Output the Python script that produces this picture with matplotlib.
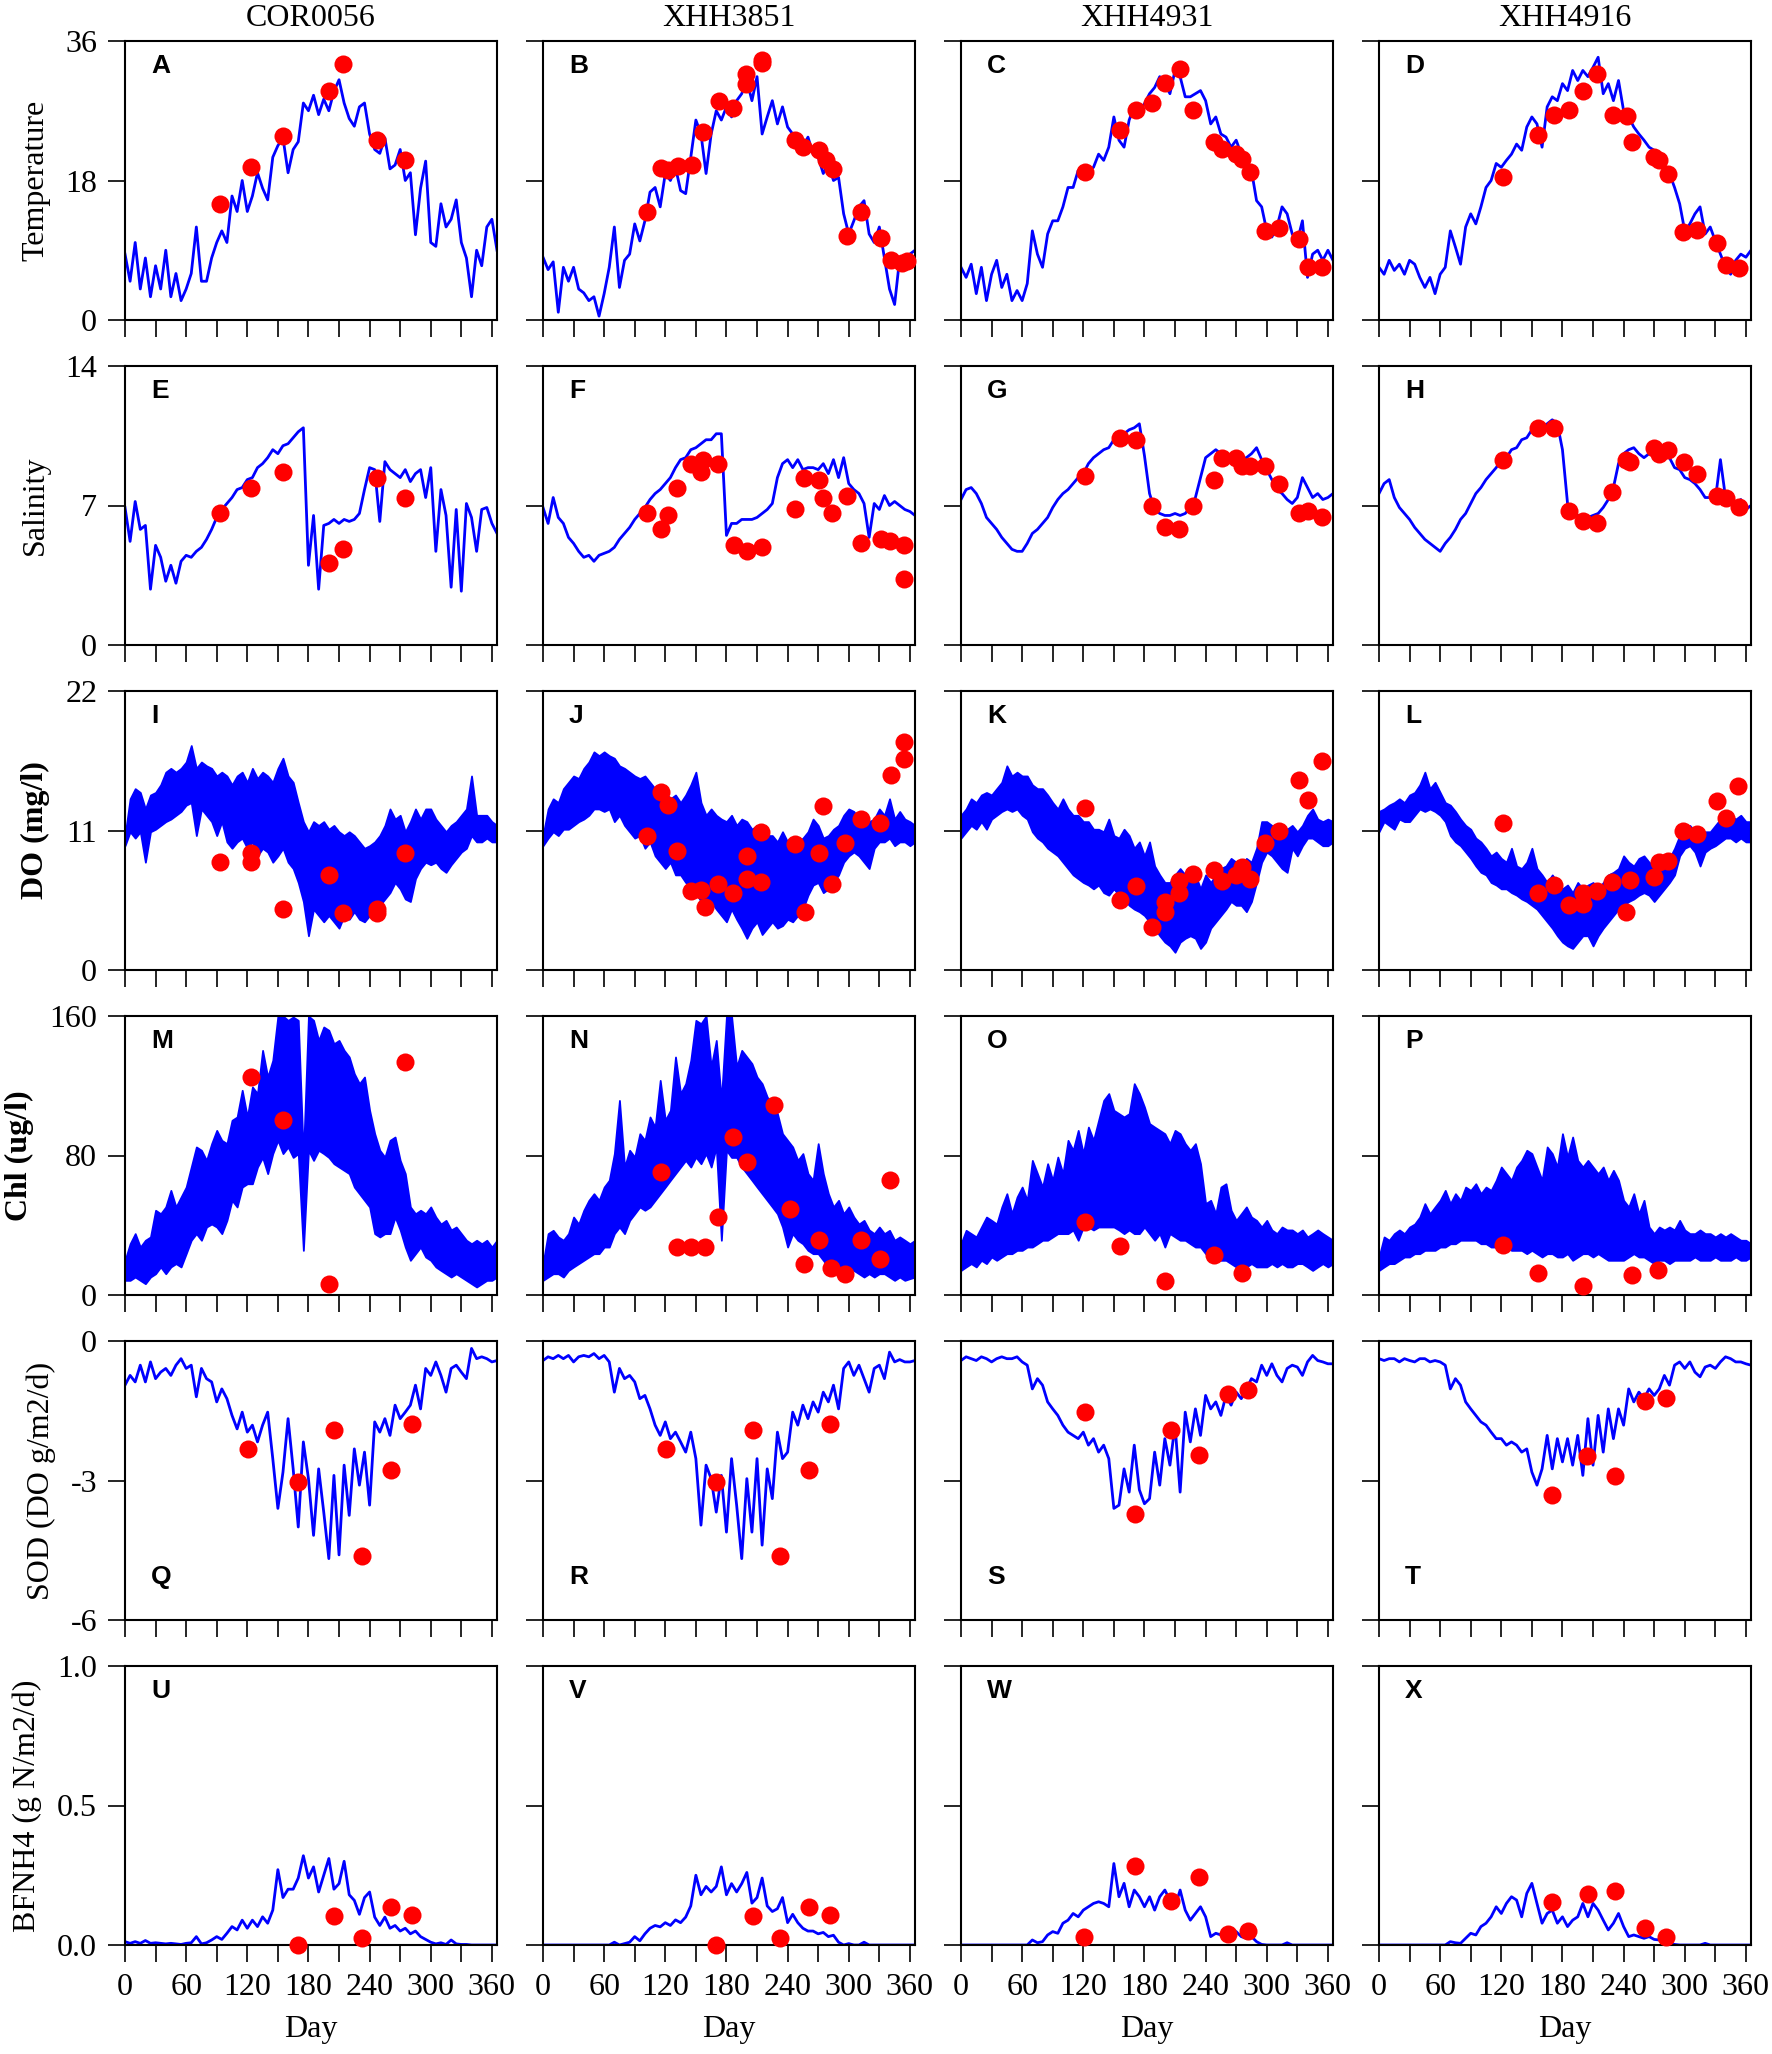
import matplotlib
matplotlib.use('Agg')
import matplotlib.pyplot as plt

# ========== CONFIGURATION ==========
FIG_W, FIG_H = 1772, 2054          # output size in pixels (dpi 100)
COL_LEFT = [125, 543, 961, 1379]   # axes left edge, px
ROW_TOP = [41, 366, 691, 1016, 1341, 1666]
AX_W, AX_H = 372, 279
BLUE = '#0000ff'
RED = '#ff0000'

plt.rcParams['font.family'] = ['Liberation Serif', 'DejaVu Serif']
plt.rcParams['axes.unicode_minus'] = False

# ========== DATA ==========
STATIONS = ['COR0056', 'XHH3851', 'XHH4931', 'XHH4916']
DAYS = list(range(0, 366, 5))   # model output sampled every 5 days

# --- Temperature (A-D) ---
temp_a = [8.5, 5, 10, 4, 8, 3, 7, 4, 9, 3,
          6, 2.5, 4, 6, 12, 5, 5, 8, 10, 11.5,
          10, 16, 14, 18, 14, 16, 19, 17, 15.5, 21,
          22.5, 23.5, 19, 22, 23, 28, 27, 29, 26.5, 28.5,
          27, 29.5, 31, 28, 26, 25, 27.5, 28, 24, 22,
          21.5, 23.5, 19.5, 20, 22, 18, 19, 11, 17, 20.5,
          10, 9.5, 15, 12, 13, 15.5, 10, 8, 3, 9,
          7, 12, 13, 9]
temp_b = [8.1, 6.5, 7.5, 1.0, 6.8, 5, 6.8, 4, 3.5, 2.5,
          3, 0.5, 3.4, 6.8, 12, 4.2, 7.7, 8.5, 12.4, 10.2,
          12.8, 16.5, 17.1, 14.6, 18.9, 18, 19.7, 16.7, 16.3, 21,
          25.8, 24, 18.9, 24, 27, 25.8, 27.5, 26.2, 28.3, 29.2,
          30.9, 28.3, 31.4, 24, 26.2, 28.3, 25.3, 27.5, 24.9, 24,
          23.2, 22.3, 23.6, 21.4, 21, 18.9, 20.2, 18, 18.4, 13.7,
          11.1, 12.8, 14.6, 15.4, 11.1, 10, 12, 8, 4, 2,
          8, 7, 8.5, 9]
temp_c = [6.8, 5.5, 7.2, 3.4, 6.8, 2.5, 5.9, 7.7, 4.2, 5.9,
          2.5, 3.8, 2.5, 4.7, 11.5, 8.5, 6.8, 11.1, 12.8, 12.8,
          14.6, 17.1, 17.1, 19.3, 18.4, 19.3, 19.7, 21.4, 20.6, 22.3,
          26.2, 23.2, 22.3, 25.8, 27.5, 27, 27.9, 29.2, 30, 31.4,
          30.5, 29.2, 32.2, 31.4, 28.8, 28.8, 29.2, 29.6, 28.3, 25.3,
          26.2, 24, 23.6, 22.3, 23.2, 21.4, 20.6, 19.3, 15.4, 14.6,
          11.5, 10.7, 12, 14.6, 13.7, 11.1, 10.2, 12.8, 5.5, 8.5,
          9, 7.7, 9, 7.7]
temp_d = [6.8, 5.9, 7.7, 6.4, 7.2, 5.9, 7.7, 7.2, 5.5, 4.2,
          5.5, 3.4, 5.9, 6.8, 11.5, 9.4, 7.2, 12, 13.7, 12.4,
          14.6, 17.1, 18, 20.2, 19.7, 20.6, 21.4, 22.7, 21.9, 24.9,
          26.2, 25.3, 22.3, 27.5, 28.8, 28.3, 30.5, 29.6, 32.2, 30.9,
          32.2, 31.4, 32.6, 33.9, 29.2, 30.5, 28.3, 30.9, 27, 26.2,
          24.9, 24, 23.2, 22.3, 21.9, 20.6, 19.3, 18.9, 17.1, 15,
          11.5, 12.4, 13.7, 14.6, 11.1, 12, 10.2, 8.5, 6.8, 5.9,
          7.7, 8.5, 8.1, 9]
temp_a_obs_day = [93, 124, 155, 200, 214, 247, 275]
temp_a_obs = [15.0, 19.7, 23.7, 29.5, 33.0, 23.2, 20.6]
temp_b_obs_day = [102, 116, 123, 132, 146, 157, 173, 186, 199, 199, 215, 215,
                  247, 255, 271, 278, 285, 298, 312, 332, 341, 352, 357]
temp_b_obs = [14.0, 19.6, 19.3, 19.9, 20.0, 24.2, 28.3, 27.3, 31.7, 30.5, 33.1, 33.6,
              23.2, 22.3, 21.9, 20.6, 19.5, 10.9, 14.0, 10.6, 7.7, 7.4, 7.6]
temp_c_obs_day = [122, 156, 172, 187, 200, 215, 228, 248, 256, 270, 276, 284,
                  298, 312, 332, 340, 354]
temp_c_obs = [19.1, 24.5, 27.1, 28.0, 30.6, 32.4, 27.1, 23.0, 22.1, 21.4, 20.8, 19.1,
              11.5, 11.9, 10.5, 6.9, 6.9]
temp_d_obs_day = [122, 156, 172, 186, 200, 214, 230, 243, 248, 270, 275, 284,
                  298, 312, 332, 340, 353]
temp_d_obs = [18.4, 23.9, 26.5, 27.1, 29.6, 31.7, 26.5, 26.3, 23.0, 21.0, 20.7, 18.9,
              11.3, 11.6, 9.9, 7.1, 6.7]

# --- Salinity (E-H) ---
sal_e = [6.9, 5.2, 7.2, 5.8, 6.0, 2.8, 5.0, 4.4, 3.2, 4.0,
         3.1, 4.2, 4.5, 4.4, 4.7, 4.9, 5.3, 5.8, 6.4, 6.8,
         7.1, 7.4, 7.8, 7.9, 8.3, 8.4, 8.9, 9.1, 9.4, 9.8,
         9.6, 10.0, 10.1, 10.4, 10.7, 10.9, 4.0, 6.5, 2.8, 6.0,
         6.1, 6.3, 6.1, 6.3, 6.2, 6.3, 6.6, 7.8, 8.9, 8.8,
         6.2, 9.2, 8.8, 8.6, 8.4, 8.8, 8.2, 8.6, 8.8, 7.4,
         8.9, 4.7, 7.8, 6.5, 2.9, 6.8, 2.7, 7.1, 6.4, 4.7,
         6.8, 6.9, 6.1, 5.6]
sal_f = [6.9, 6.1, 7.4, 6.4, 6.1, 5.4, 5.1, 4.7, 4.4, 4.5,
         4.2, 4.5, 4.6, 4.7, 4.9, 5.3, 5.6, 5.9, 6.3, 6.6,
         6.9, 7.3, 7.6, 7.8, 8.1, 8.4, 8.9, 9.3, 9.4, 9.8,
         9.9, 10.1, 10.3, 10.3, 10.6, 10.6, 5.5, 6.1, 6.1, 6.3,
         6.3, 6.3, 6.4, 6.6, 6.8, 7.1, 8.4, 9.1, 9.3, 8.9,
         9.3, 8.8, 8.9, 8.9, 8.8, 9.1, 8.6, 9.3, 8.4, 9.4,
         8.1, 7.8, 7.6, 7.1, 5.4, 7.1, 6.8, 7.5, 7.0, 7.2,
         7.0, 6.8, 6.7, 6.5]
sal_g = [7.3, 7.8, 7.9, 7.6, 7.1, 6.4, 6.1, 5.8, 5.4, 5.1,
         4.8, 4.7, 4.7, 5.1, 5.6, 5.8, 6.1, 6.4, 6.9, 7.3,
         7.6, 7.8, 8.1, 8.4, 8.6, 9.1, 9.4, 9.6, 9.8, 9.9,
         10.3, 10.4, 10.6, 10.8, 10.9, 11.1, 9.5, 7.6, 6.8, 6.6,
         6.5, 6.5, 6.6, 6.5, 6.6, 6.9, 7.4, 8.4, 9.4, 9.6,
         9.8, 9.6, 9.3, 9.4, 9.4, 9.3, 9.4, 9.6, 9.9, 9.3,
         8.8, 8.3, 7.8, 7.6, 7.3, 7.1, 7.4, 8.4, 7.9, 7.4,
         7.6, 7.3, 7.4, 7.6]
sal_h = [7.6, 8.1, 8.3, 7.4, 6.9, 6.6, 6.3, 5.9, 5.6, 5.3,
         5.1, 4.9, 4.7, 5.1, 5.4, 5.8, 6.3, 6.6, 7.1, 7.6,
         7.9, 8.3, 8.6, 8.9, 9.3, 9.4, 9.8, 9.9, 10.3, 10.4,
         10.8, 10.9, 10.9, 11.1, 11.3, 11.1, 9.8, 7.1, 6.6, 6.5,
         6.4, 6.4, 6.5, 6.6, 6.9, 7.3, 7.9, 9.1, 9.6, 9.8,
         9.9, 9.6, 9.4, 9.6, 9.8, 9.4, 9.8, 9.4, 8.9, 8.8,
         8.4, 8.3, 8.1, 7.8, 7.4, 7.4, 7.3, 9.3, 7.4, 7.3,
         7.1, 7.3, 6.8, 7.0]
sal_e_obs_day = [93, 124, 155, 200, 214, 247, 275]
sal_e_obs = [6.6, 7.9, 8.7, 4.1, 4.8, 8.4, 7.4]
sal_f_obs_day = [102, 116, 123, 131, 145, 155, 157, 172, 187, 200, 215,
                 247, 256, 271, 275, 284, 298, 312, 332, 340, 354, 354]
sal_f_obs = [6.6, 5.8, 6.5, 7.9, 9.1, 8.7, 9.3, 9.1, 5.0, 4.7, 4.9,
             6.8, 8.4, 8.3, 7.4, 6.6, 7.5, 5.1, 5.3, 5.2, 5.0, 3.3]
sal_g_obs_day = [122, 156, 172, 187, 200, 214, 228, 248, 256, 270, 276, 284,
                 298, 312, 332, 340, 354]
sal_g_obs = [8.5, 10.4, 10.3, 7.0, 5.9, 5.8, 7.0, 8.3, 9.4, 9.4, 9.0, 9.0,
             9.0, 8.1, 6.6, 6.7, 6.4]
sal_h_obs_day = [122, 156, 172, 186, 200, 214, 229, 242, 246, 270, 275, 284,
                 299, 312, 332, 340, 353]
sal_h_obs = [9.3, 10.9, 10.9, 6.7, 6.2, 6.1, 7.7, 9.3, 9.2, 9.9, 9.6, 9.8,
             9.2, 8.6, 7.5, 7.4, 6.9]

# --- DO (I-L): daily model output is a dense band, kept as upper / lower envelope ---
do_i_hi = [10.6, 13.5, 14.3, 14.0, 12.7, 13.8, 14.0, 14.6, 15.6, 15.9,
           15.6, 15.9, 16.4, 17.7, 15.9, 16.4, 16.1, 15.9, 15.3, 15.6,
           15.3, 14.6, 15.3, 15.6, 14.8, 15.9, 15.1, 15.6, 15.3, 14.8,
           15.9, 16.7, 15.3, 14.8, 13.2, 11.7, 10.9, 11.7, 11.4, 11.7,
           11.1, 11.4, 10.9, 10.6, 10.9, 10.6, 10.1, 9.6, 9.8, 10.1,
           10.6, 11.4, 12.7, 11.9, 12.2, 10.9, 11.7, 12.7, 11.9, 12.7,
           12.7, 11.9, 11.4, 10.9, 11.4, 11.7, 12.2, 12.7, 15.3, 12.2,
           12.2, 12.2, 11.7, 11.4]
do_i_lo = [9.8, 10.9, 10.4, 10.9, 8.5, 10.9, 11.1, 11.4, 11.7, 11.9,
           12.2, 12.5, 13.0, 13.2, 10.6, 12.7, 12.2, 11.7, 10.6, 11.7,
           10.1, 9.6, 10.1, 10.4, 9.6, 10.1, 9.0, 9.6, 9.3, 8.5,
           9.0, 9.6, 8.5, 8.0, 6.9, 5.4, 2.7, 4.8, 4.3, 3.8,
           4.3, 3.8, 3.3, 4.3, 4.0, 4.6, 4.0, 3.8, 4.3, 4.8,
           5.1, 5.6, 6.1, 6.9, 6.4, 5.6, 5.4, 7.2, 8.0, 8.5,
           8.3, 8.5, 8.0, 7.7, 8.3, 8.8, 9.3, 9.6, 10.6, 10.1,
           10.1, 10.4, 10.1, 10.1]
do_j_hi = [10.6, 12.7, 13.5, 13.2, 14.3, 14.8, 15.3, 15.1, 15.9, 16.4,
           17.2, 16.9, 17.2, 16.9, 16.7, 16.1, 15.9, 15.6, 15.3, 15.1,
           15.3, 14.8, 14.3, 13.8, 14.0, 13.5, 13.8, 13.2, 13.8, 14.6,
           15.6, 13.2, 12.2, 12.7, 12.2, 11.9, 11.7, 12.2, 11.4, 11.9,
           11.7, 11.1, 11.4, 10.9, 10.6, 10.6, 10.1, 10.9, 10.1, 9.8,
           10.1, 10.4, 10.9, 11.9, 11.4, 10.4, 10.6, 11.1, 11.4, 12.2,
           12.7, 12.5, 11.9, 12.2, 11.7, 11.9, 12.7, 12.2, 13.5, 11.9,
           12.5, 11.9, 11.7, 11.4]
do_j_lo = [9.8, 10.4, 10.9, 10.6, 11.1, 11.1, 11.4, 11.7, 11.9, 12.2,
           12.7, 12.7, 12.5, 12.7, 11.7, 12.2, 11.4, 10.9, 10.4, 10.6,
           9.6, 10.1, 9.0, 8.5, 8.0, 8.5, 7.5, 7.5, 6.9, 6.7,
           6.1, 5.4, 4.8, 5.4, 4.8, 4.3, 3.8, 4.8, 4.0, 3.3,
           2.5, 3.3, 3.8, 2.8, 3.3, 3.8, 3.3, 3.5, 4.0, 3.8,
           4.3, 4.8, 5.9, 6.7, 6.9, 6.1, 6.4, 6.9, 7.5, 8.5,
           9.0, 9.3, 9.0, 8.5, 8.0, 9.6, 10.1, 10.1, 10.4, 9.8,
           10.1, 10.1, 9.8, 10.1]
do_k_hi = [12.2, 12.7, 13.5, 13.2, 13.8, 14.0, 13.8, 14.3, 14.8, 16.1,
           15.3, 15.6, 15.3, 15.3, 14.6, 14.3, 14.3, 13.8, 13.2, 12.7,
           13.5, 12.7, 12.2, 12.2, 11.7, 11.7, 11.1, 11.1, 10.9, 11.9,
           10.6, 10.4, 11.1, 10.6, 9.6, 10.1, 9.0, 10.1, 8.2, 7.5,
           6.9, 6.9, 7.5, 8.0, 7.5, 8.0, 7.5, 6.4, 7.5, 6.9,
           7.5, 8.0, 8.2, 8.8, 8.5, 8.2, 8.8, 8.5, 9.6, 11.7,
           11.7, 11.4, 10.9, 10.6, 11.1, 11.4, 10.9, 11.4, 12.2, 12.7,
           11.9, 11.7, 11.9, 11.7]
do_k_lo = [10.4, 10.9, 11.4, 11.1, 11.7, 11.1, 11.9, 12.2, 12.5, 12.7,
           12.5, 12.7, 12.2, 11.9, 10.9, 10.4, 10.1, 9.6, 9.3, 9.0,
           8.5, 8.0, 7.5, 7.2, 6.9, 6.7, 6.4, 6.7, 6.1, 5.9,
           6.4, 5.9, 5.6, 5.1, 4.8, 4.6, 4.3, 3.8, 3.3, 2.7,
           2.2, 1.9, 1.4, 2.2, 2.5, 2.7, 2.5, 1.7, 2.2, 3.3,
           3.8, 4.3, 4.8, 5.4, 5.1, 5.1, 4.6, 5.4, 6.9, 8.5,
           9.3, 9.0, 8.5, 8.0, 7.7, 9.6, 9.0, 9.8, 10.4, 10.4,
           10.1, 9.8, 9.8, 10.1]
do_l_hi = [12.5, 12.7, 13.0, 13.2, 13.5, 13.2, 13.8, 14.0, 14.6, 15.6,
           14.3, 14.8, 14.0, 13.2, 13.0, 12.5, 11.9, 11.4, 11.1, 10.4,
           10.1, 9.6, 9.0, 9.3, 8.8, 8.5, 9.6, 8.2, 8.0, 8.5,
           9.6, 8.0, 7.5, 6.9, 7.5, 6.9, 6.4, 6.7, 6.1, 6.9,
           6.4, 6.7, 6.9, 6.4, 6.9, 7.5, 7.7, 8.0, 9.0, 8.5,
           8.2, 8.8, 9.0, 8.5, 8.2, 8.5, 8.5, 8.8, 9.6, 10.6,
           11.1, 11.4, 10.9, 10.6, 10.9, 10.9, 11.4, 11.9, 12.5, 12.2,
           11.9, 12.2, 11.7, 11.7]
do_l_lo = [10.9, 11.7, 11.4, 11.1, 11.9, 11.7, 11.7, 12.2, 12.7, 12.5,
           12.7, 12.5, 12.2, 11.7, 10.6, 10.1, 9.8, 9.3, 8.8, 8.2,
           7.7, 7.5, 6.9, 6.7, 6.4, 6.4, 6.1, 5.9, 5.6, 5.4,
           5.1, 4.8, 4.3, 3.8, 3.3, 2.7, 2.2, 1.9, 1.7, 2.2,
           2.7, 2.7, 1.9, 2.7, 3.3, 3.8, 4.3, 4.8, 5.1, 5.4,
           5.6, 5.9, 6.1, 5.9, 5.4, 5.9, 6.4, 6.9, 7.5, 9.0,
           9.6, 9.8, 9.3, 8.2, 9.3, 9.6, 9.8, 10.1, 10.4, 10.4,
           10.1, 10.4, 10.1, 10.1]
do_i_obs_day = [93, 124, 124, 155, 200, 214, 247, 247, 275]
do_i_obs = [8.5, 9.2, 8.5, 4.8, 7.5, 4.5, 4.8, 4.5, 9.2]
do_j_obs_day = [102, 116, 123, 131, 145, 155, 159, 172, 186, 200, 200, 214,
                214, 247, 257, 271, 275, 284, 296, 312, 331, 341, 354, 354]
do_j_obs = [10.6, 14.0, 13.0, 9.4, 6.2, 6.3, 5.0, 6.8, 6.1, 9.0, 7.2, 10.9,
            6.9, 9.9, 4.6, 9.2, 12.9, 6.8, 10.0, 11.9, 11.6, 15.4, 16.6, 18.0]
do_k_obs_day = [122, 156, 172, 187, 200, 200, 214, 214, 228, 248, 256, 270,
                276, 284, 298, 312, 332, 340, 354]
do_k_obs = [12.8, 5.5, 6.6, 3.4, 5.4, 4.6, 6.1, 7.0, 7.6, 7.9, 7.0, 7.5,
            8.1, 7.2, 10.0, 11.0, 15.0, 13.4, 16.5]
do_l_obs_day = [122, 156, 172, 186, 200, 200, 214, 229, 242, 246, 270, 275,
                284, 298, 312, 332, 340, 352]
do_l_obs = [11.6, 6.1, 6.7, 5.1, 6.1, 5.2, 6.2, 6.9, 4.6, 7.1, 7.3, 8.5,
            8.6, 11.0, 10.7, 13.3, 12.0, 14.5]

# --- Chl (M-P): upper / lower envelope of the daily band ---
chl_m_hi = [19.9, 29.4, 35.2, 27.5, 31.4, 33.3, 48.6, 46.6, 50.5, 60.0,
            50.5, 56.2, 61.9, 73.4, 84.9, 83.0, 77.2, 86.8, 94.4, 88.7,
            86.8, 100.2, 102.1, 117.4, 102.1, 119.3, 115.5, 140.3, 125.0, 134.6,
            160, 160, 157.5, 159.4, 157.5, 79.0, 160, 157.5, 146.0, 153.7,
            151.8, 144.1, 146.0, 140.3, 136.5, 126.9, 121.2, 125.0, 105.9, 92.5,
            83.0, 79.1, 88.7, 90.6, 77.2, 69.6, 50.5, 46.6, 48.6, 46.6,
            50.5, 44.7, 40.7, 42.8, 37.3, 39.0, 35.2, 31.4, 29.4, 31.4,
            29.4, 31.4, 27.5, 31.4]
chl_m_lo = [8.4, 8.4, 10.3, 8.4, 6.5, 10.3, 12.2, 16.1, 12.2, 16.1,
            18.0, 16.1, 23.7, 31.4, 35.2, 31.4, 39.0, 40.7, 39.0, 35.2,
            42.8, 54.3, 50.5, 61.9, 63.8, 63.8, 73.4, 78.9, 69.6, 81.1,
            88.7, 81.1, 84.9, 78.9, 81.1, 25.6, 83.0, 77.2, 83.0, 81.1,
            78.9, 75.3, 73.4, 71.5, 69.6, 61.9, 58.1, 54.3, 50.5, 35.2,
            33.3, 35.2, 35.2, 44.7, 37.3, 27.5, 19.9, 23.7, 27.5, 21.8,
            19.9, 16.1, 14.1, 12.2, 10.3, 12.2, 10.3, 8.4, 6.5, 4.6,
            6.5, 8.4, 8.4, 10.3]
chl_n_hi = [18.0, 35.2, 37.1, 33.3, 31.4, 35.2, 44.7, 40.7, 48.6, 54.3,
            58.1, 54.3, 61.9, 65.8, 81.1, 111.6, 73.4, 83.0, 79.1, 92.5,
            88.7, 102.1, 96.3, 123.1, 100.2, 105.9, 136.5, 115.5, 121.2, 134.6,
            157.5, 155.6, 160, 130.8, 146.0, 111.6, 160, 160, 130.8, 140.3,
            136.5, 132.7, 125.0, 121.2, 113.5, 109.7, 104.0, 92.5, 88.7, 84.9,
            77.2, 81.1, 69.6, 65.8, 86.8, 69.6, 58.1, 50.5, 54.3, 46.6,
            50.5, 44.7, 40.7, 42.8, 37.3, 35.2, 39.0, 35.2, 37.1, 31.4,
            33.3, 31.4, 29.4, 31.4]
chl_n_lo = [8.4, 10.3, 12.2, 12.2, 10.3, 14.1, 16.1, 18.0, 19.9, 21.8,
            23.7, 23.7, 27.5, 27.5, 35.2, 39.0, 35.2, 42.8, 46.6, 50.5,
            48.6, 50.5, 54.3, 58.1, 61.9, 65.8, 69.6, 73.4, 77.2, 73.4,
            79.1, 75.3, 81.1, 73.4, 84.9, 31.4, 83.0, 78.9, 78.9, 73.4,
            69.6, 65.8, 61.9, 58.1, 54.3, 50.5, 46.6, 39.0, 27.5, 35.2,
            31.4, 29.4, 25.6, 23.7, 23.7, 19.9, 16.1, 18.0, 16.1, 14.1,
            16.1, 14.1, 12.2, 10.3, 12.2, 10.3, 12.2, 12.2, 10.3, 8.4,
            10.3, 8.4, 9.4, 10.3]
chl_o_hi = [29.4, 37.1, 35.2, 33.3, 39.0, 44.7, 42.8, 40.7, 50.5, 58.1,
            46.6, 56.2, 61.9, 54.3, 77.2, 69.6, 61.9, 75.3, 65.8, 79.1,
            69.6, 88.7, 83.0, 94.4, 81.1, 96.3, 88.7, 100.2, 111.6, 115.5,
            105.9, 104.0, 102.1, 104.0, 121.2, 115.5, 107.8, 98.3, 96.3, 94.4,
            92.5, 86.8, 94.4, 92.5, 86.8, 83.0, 86.8, 75.3, 52.4, 54.3,
            46.6, 61.9, 63.8, 48.6, 42.8, 46.6, 50.5, 44.7, 42.8, 39.0,
            42.8, 37.3, 35.2, 39.0, 37.3, 37.3, 35.2, 37.3, 33.3, 35.2,
            37.3, 35.2, 33.3, 31.4]
chl_o_lo = [14.1, 16.1, 18.0, 16.1, 19.9, 18.0, 21.8, 19.9, 21.8, 23.7,
            23.7, 25.6, 25.6, 27.5, 27.5, 29.4, 31.4, 31.4, 33.3, 35.2,
            35.2, 35.2, 37.3, 31.4, 39.0, 39.0, 37.3, 39.0, 39.0, 39.0,
            39.0, 37.3, 35.2, 37.3, 35.2, 35.2, 39.0, 35.2, 31.4, 35.2,
            27.5, 35.2, 33.3, 31.4, 31.4, 29.4, 27.5, 27.5, 23.7, 21.8,
            19.9, 19.9, 19.9, 18.0, 16.1, 18.0, 16.1, 18.0, 16.1, 16.1,
            16.1, 18.0, 16.1, 18.0, 16.1, 16.1, 18.0, 18.0, 16.1, 14.1,
            16.1, 18.0, 16.1, 18.0]
chl_p_hi = [21.8, 33.3, 31.4, 35.2, 37.3, 35.2, 39.0, 40.7, 44.7, 52.4,
            46.6, 50.5, 54.3, 60.0, 52.4, 58.1, 54.3, 61.9, 60.0, 63.8,
            58.1, 61.9, 60.0, 65.8, 73.4, 69.6, 65.8, 73.4, 77.2, 83.0,
            81.1, 73.4, 65.8, 84.9, 81.1, 73.4, 92.5, 79.1, 90.6, 77.2,
            73.4, 77.2, 73.4, 69.6, 73.4, 65.8, 71.5, 65.8, 54.3, 50.5,
            58.1, 46.6, 54.3, 39.0, 35.2, 39.0, 37.3, 39.0, 37.3, 42.8,
            37.3, 35.2, 35.2, 37.3, 35.2, 35.2, 33.3, 35.2, 33.3, 35.2,
            33.3, 31.4, 31.4, 29.4]
chl_p_lo = [14.1, 16.1, 18.0, 18.0, 19.9, 21.8, 21.8, 23.7, 23.7, 25.6,
            25.6, 25.6, 27.5, 27.5, 29.4, 29.4, 31.4, 31.4, 31.4, 31.4,
            29.4, 29.4, 27.5, 27.5, 27.5, 27.5, 25.6, 25.6, 25.6, 23.7,
            25.6, 23.7, 21.8, 23.7, 23.7, 21.8, 21.8, 23.7, 19.9, 21.8,
            23.7, 23.7, 21.8, 23.7, 21.8, 19.9, 19.9, 19.9, 19.9, 21.8,
            23.7, 21.8, 21.8, 19.9, 18.0, 19.9, 19.9, 18.0, 19.9, 19.9,
            19.9, 19.9, 21.8, 19.9, 19.9, 19.9, 21.8, 19.9, 19.9, 19.9,
            21.8, 19.9, 19.9, 21.8]
chl_m_obs_day = [124, 155, 200, 275]
chl_m_obs = [125.0, 100.2, 6.5, 133.6]
chl_n_obs_day = [116, 131, 145, 159, 172, 186, 200, 227, 242, 256, 271, 283,
                 296, 312, 331, 340]
chl_n_obs = [70.5, 27.5, 27.5, 27.5, 44.7, 90.6, 76.3, 108.8, 49.5, 18.0, 31.4, 15.5,
             12.2, 31.7, 20.8, 65.8]
chl_o_obs_day = [122, 156, 200, 248, 276]
chl_o_obs = [41.9, 27.9, 8.0, 22.7, 12.6]
chl_p_obs_day = [122, 156, 200, 248, 274]
chl_p_obs = [28.9, 12.6, 5.0, 11.3, 14.5]

# --- SOD (Q-T) ---
sod_q = [-0.95, -0.74, -0.88, -0.52, -0.88, -0.45, -0.81, -0.67, -0.59, -0.74,
         -0.52, -0.38, -0.59, -0.52, -1.2, -0.59, -0.81, -0.88, -1.31, -1.03,
         -1.24, -1.60, -1.89, -1.53, -1.96, -1.81, -2.17, -1.81, -1.53, -2.53,
         -3.6, -2.82, -1.67, -2.75, -4.0, -2.17, -2.96, -4.18, -2.75, -3.68,
         -4.68, -2.89, -4.6, -2.67, -3.75, -2.32, -3.10, -2.39, -3.53, -1.74,
         -1.96, -1.67, -2.03, -1.38, -1.67, -1.53, -1.38, -0.95, -1.46, -0.59,
         -0.74, -0.45, -0.74, -1.10, -0.59, -0.52, -0.67, -0.81, -0.16, -0.38,
         -0.34, -0.38, -0.45, -0.42]
sod_r = [-0.42, -0.34, -0.38, -0.31, -0.38, -0.31, -0.45, -0.34, -0.31, -0.34,
         -0.27, -0.38, -0.31, -0.45, -1.10, -0.59, -0.81, -0.74, -0.88, -1.24,
         -1.17, -1.46, -1.81, -2.03, -1.74, -2.10, -1.96, -2.17, -2.39, -1.96,
         -2.53, -3.96, -2.67, -2.96, -3.68, -2.89, -4.11, -2.53, -3.53, -4.68,
         -2.96, -4.11, -2.53, -4.39, -2.75, -3.39, -1.96, -2.53, -2.39, -1.53,
         -1.81, -1.38, -1.67, -1.31, -1.53, -1.10, -1.31, -0.95, -1.46, -0.59,
         -0.45, -0.74, -0.52, -0.81, -1.10, -0.59, -0.52, -0.81, -0.24, -0.45,
         -0.40, -0.45, -0.45, -0.42]
sod_s = [-0.42, -0.34, -0.38, -0.42, -0.34, -0.38, -0.45, -0.38, -0.34, -0.38,
         -0.38, -0.34, -0.45, -0.52, -1.03, -0.81, -0.95, -1.31, -1.46, -1.60,
         -1.81, -1.96, -2.03, -2.10, -1.96, -2.24, -2.10, -2.39, -2.24, -2.53,
         -3.6, -3.53, -2.75, -3.25, -2.24, -3.2, -3.5, -3.39, -2.39, -3.10,
         -2.10, -2.67, -1.81, -3.25, -1.53, -2.17, -1.46, -2.03, -1.17, -1.46,
         -1.31, -1.60, -1.17, -1.38, -1.10, -1.24, -1.03, -0.81, -0.88, -0.52,
         -0.74, -0.49, -0.74, -0.88, -0.59, -0.52, -0.56, -0.74, -0.45, -0.31,
         -0.42, -0.45, -0.49, -0.49]
sod_t = [-0.38, -0.42, -0.38, -0.38, -0.45, -0.38, -0.42, -0.45, -0.38, -0.38,
         -0.45, -0.42, -0.45, -0.52, -1.03, -0.81, -0.95, -1.31, -1.46, -1.60,
         -1.74, -1.81, -1.96, -2.10, -2.10, -2.24, -2.17, -2.24, -2.39, -2.32,
         -2.82, -3.10, -2.75, -2.03, -2.75, -2.10, -2.60, -2.10, -2.67, -2.03,
         -2.89, -1.67, -2.67, -1.60, -2.39, -1.46, -2.10, -1.46, -1.81, -1.03,
         -1.31, -1.10, -1.24, -1.03, -1.17, -1.03, -0.74, -0.95, -0.52, -0.45,
         -0.59, -0.45, -0.67, -0.77, -0.56, -0.52, -0.59, -0.45, -0.34, -0.38,
         -0.45, -0.45, -0.49, -0.52]
sod_q_obs_day = [121, 170, 205, 233, 261, 282]
sod_q_obs = [-2.32, -3.03, -1.92, -4.63, -2.77, -1.79]
sod_r_obs_day = [121, 170, 206, 233, 261, 282]
sod_r_obs = [-2.32, -3.03, -1.92, -4.63, -2.77, -1.79]
sod_s_obs_day = [122, 171, 206, 234, 262, 282]
sod_s_obs = [-1.53, -3.71, -1.91, -2.46, -1.15, -1.06]
sod_t_obs_day = [170, 204, 232, 261, 282]
sod_t_obs = [-3.32, -2.48, -2.90, -1.30, -1.22]

# --- BFNH4 (U-X) ---
nh4_u = [0.012, 0.006, 0.012, 0.006, 0.016, 0.006, 0.008, 0.006, 0.004, 0.006,
         0.004, 0.002, 0.006, 0.008, 0.03, 0.004, 0.008, 0.018, 0.03, 0.02,
         0.042, 0.066, 0.054, 0.089, 0.06, 0.089, 0.066, 0.101, 0.078, 0.125,
         0.27, 0.17, 0.20, 0.20, 0.24, 0.32, 0.24, 0.28, 0.19, 0.25,
         0.31, 0.20, 0.22, 0.30, 0.18, 0.16, 0.11, 0.17, 0.19, 0.10,
         0.07, 0.10, 0.06, 0.07, 0.05, 0.06, 0.04, 0.05, 0.03, 0.02,
         0.01, 0.004, 0.008, 0.002, 0.018, 0.004, 0.002, 0.002, 0.0, 0.0,
         0.0, 0.0, 0.0, 0.0]
nh4_v = [0.0, 0.0, 0.0, 0.0, 0.0, 0.0, 0.0, 0.0, 0.0, 0.0,
         0.0, 0.0, 0.0, 0.0, 0.01, 0.0, 0.005, 0.01, 0.03, 0.015,
         0.04, 0.06, 0.07, 0.065, 0.08, 0.07, 0.09, 0.08, 0.10, 0.14,
         0.25, 0.18, 0.21, 0.19, 0.21, 0.28, 0.18, 0.22, 0.19, 0.22,
         0.26, 0.15, 0.17, 0.24, 0.14, 0.12, 0.13, 0.17, 0.08, 0.11,
         0.08, 0.06, 0.05, 0.05, 0.04, 0.045, 0.03, 0.035, 0.01, 0.0,
         0.005, 0.0, 0.0, 0.01, 0.0, 0.0, 0.0, 0.0, 0.0, 0.0,
         0.0, 0.0, 0.0, 0.0]
nh4_w = [0.0, 0.0, 0.0, 0.0, 0.0, 0.0, 0.0, 0.0, 0.0, 0.0,
         0.0, 0.0, 0.0, 0.0, 0.018, 0.008, 0.012, 0.036, 0.048, 0.042,
         0.078, 0.089, 0.113, 0.101, 0.125, 0.137, 0.149, 0.155, 0.149, 0.137,
         0.292, 0.173, 0.221, 0.137, 0.197, 0.173, 0.137, 0.173, 0.125, 0.173,
         0.197, 0.161, 0.137, 0.197, 0.125, 0.089, 0.113, 0.137, 0.101, 0.030,
         0.042, 0.036, 0.054, 0.042, 0.048, 0.030, 0.024, 0.030, 0.012, 0.002,
         0.0, 0.0, 0.0, 0.0, 0.008, 0.0, 0.0, 0.0, 0.0, 0.0,
         0.0, 0.0, 0.0, 0.0]
nh4_x = [0.0, 0.0, 0.0, 0.0, 0.0, 0.0, 0.0, 0.0, 0.0, 0.0,
         0.0, 0.0, 0.0, 0.0, 0.012, 0.008, 0.006, 0.024, 0.042, 0.036,
         0.066, 0.078, 0.101, 0.137, 0.113, 0.149, 0.173, 0.161, 0.101, 0.185,
         0.221, 0.149, 0.078, 0.113, 0.125, 0.078, 0.101, 0.066, 0.089, 0.101,
         0.149, 0.101, 0.149, 0.125, 0.089, 0.054, 0.078, 0.113, 0.066, 0.030,
         0.036, 0.030, 0.024, 0.030, 0.020, 0.018, 0.008, 0.006, 0.002, 0.0,
         0.0, 0.0, 0.0, 0.0, 0.006, 0.0, 0.0, 0.0, 0.0, 0.0,
         0.0, 0.0, 0.0, 0.0]
nh4_u_obs_day = [170, 205, 233, 261, 282]
nh4_u_obs = [0.0, 0.105, 0.024, 0.137, 0.107]
nh4_v_obs_day = [170, 206, 233, 261, 282]
nh4_v_obs = [0.0, 0.105, 0.024, 0.137, 0.107]
nh4_w_obs_day = [121, 171, 206, 234, 262, 282]
nh4_w_obs = [0.030, 0.284, 0.159, 0.242, 0.039, 0.050]
nh4_x_obs_day = [170, 205, 232, 261, 282]
nh4_x_obs = [0.153, 0.183, 0.195, 0.060, 0.030]

# ========== ROW SETTINGS ==========
# label, y ticks, tick labels, ylabel anchor x (px from figure left), bold, letter at bottom
ROWS = [
    ("Temperature", [0, 18, 36], ["0", "18", "36"], 50, False, False),
    ("Salinity", [0, 7, 14], ["0", "7", "14"], 50, False, False),
    ("DO (mg/l)", [0, 11, 22], ["0", "11", "22"], 50, True, False),
    ("Chl (ug/l)", [0, 80, 160], ["0", "80", "160"], 34, True, False),
    ("SOD (DO g/m2/d)", [-6, -3, 0], ["-6", "-3", "0"], 56, False, True),
    ("BFNH4 (g N/m2/d)", [0, 0.5, 1.0], ["0.0", "0.5", "1.0"], 42, False, False),
]

# each panel: (letter, model line or (hi, lo) band, obs days, obs values)
PANELS = [
    [("A", temp_a, temp_a_obs_day, temp_a_obs), ("B", temp_b, temp_b_obs_day, temp_b_obs),
     ("C", temp_c, temp_c_obs_day, temp_c_obs), ("D", temp_d, temp_d_obs_day, temp_d_obs)],
    [("E", sal_e, sal_e_obs_day, sal_e_obs), ("F", sal_f, sal_f_obs_day, sal_f_obs),
     ("G", sal_g, sal_g_obs_day, sal_g_obs), ("H", sal_h, sal_h_obs_day, sal_h_obs)],
    [("I", (do_i_hi, do_i_lo), do_i_obs_day, do_i_obs), ("J", (do_j_hi, do_j_lo), do_j_obs_day, do_j_obs),
     ("K", (do_k_hi, do_k_lo), do_k_obs_day, do_k_obs), ("L", (do_l_hi, do_l_lo), do_l_obs_day, do_l_obs)],
    [("M", (chl_m_hi, chl_m_lo), chl_m_obs_day, chl_m_obs), ("N", (chl_n_hi, chl_n_lo), chl_n_obs_day, chl_n_obs),
     ("O", (chl_o_hi, chl_o_lo), chl_o_obs_day, chl_o_obs), ("P", (chl_p_hi, chl_p_lo), chl_p_obs_day, chl_p_obs)],
    [("Q", sod_q, sod_q_obs_day, sod_q_obs), ("R", sod_r, sod_r_obs_day, sod_r_obs),
     ("S", sod_s, sod_s_obs_day, sod_s_obs), ("T", sod_t, sod_t_obs_day, sod_t_obs)],
    [("U", nh4_u, nh4_u_obs_day, nh4_u_obs), ("V", nh4_v, nh4_v_obs_day, nh4_v_obs),
     ("W", nh4_w, nh4_w_obs_day, nh4_w_obs), ("X", nh4_x, nh4_x_obs_day, nh4_x_obs)],
]

# ========== DRAW ==========
fig = plt.figure(figsize=(FIG_W / 100, FIG_H / 100), dpi=100)

xticks = list(range(0, 361, 30))
xlabels = [str(d) if d % 60 == 0 else "" for d in xticks]

for r, (ylab, yt, ytl, ylab_x, ybold, letter_low) in enumerate(ROWS):
    for c, (letter, model, obs_day, obs) in enumerate(PANELS[r]):
        left = COL_LEFT[c] / FIG_W
        bottom = 1 - (ROW_TOP[r] + AX_H) / FIG_H
        ax = fig.add_axes([left, bottom, AX_W / FIG_W, AX_H / FIG_H])

        if isinstance(model, tuple):
            hi, lo = model
            ax.fill_between(DAYS, lo, hi, color=BLUE, lw=1.3, zorder=2)
        else:
            ax.plot(DAYS, model, color=BLUE, lw=2.0, zorder=2)
        ax.plot(obs_day, obs, 'o', color=RED, ms=13, mec='none',
                clip_on=False, zorder=5)

        ax.set_xlim(0, 365)
        ax.set_ylim(yt[0], yt[-1])
        ax.set_xticks(xticks)
        ax.set_yticks(yt)
        ax.tick_params(direction='out', length=12, width=1.2,
                       labelsize=23, pad=8)
        if r == len(ROWS) - 1:
            ax.set_xticklabels(xlabels)
        else:
            ax.set_xticklabels([])
        if c == 0:
            ax.set_yticklabels(ytl)
            ax.set_ylabel(ylab, fontsize=23,
                          fontweight='bold' if ybold else 'normal')
            ax.yaxis.set_label_coords((ylab_x - COL_LEFT[0]) / AX_W, 0.5)
        else:
            ax.set_yticklabels([])
        for s in ax.spines.values():
            s.set_linewidth(1.5)

        ax.text(0.07, 0.155 if letter_low else 0.91, letter, transform=ax.transAxes,
                ha='left', va='center', fontsize=19, fontweight='bold',
                family=['Liberation Sans', 'DejaVu Sans'])

# column titles and x-axis labels
for c, name in enumerate(STATIONS):
    cx = (COL_LEFT[c] + AX_W / 2) / FIG_W
    fig.text(cx, 1 - 18 / FIG_H, name, ha='center', va='center', fontsize=23)
    fig.text(cx, 25 / FIG_H, "Day", ha='center', va='center', fontsize=23)

fig.savefig("out.png", dpi=100)
plt.close(fig)
